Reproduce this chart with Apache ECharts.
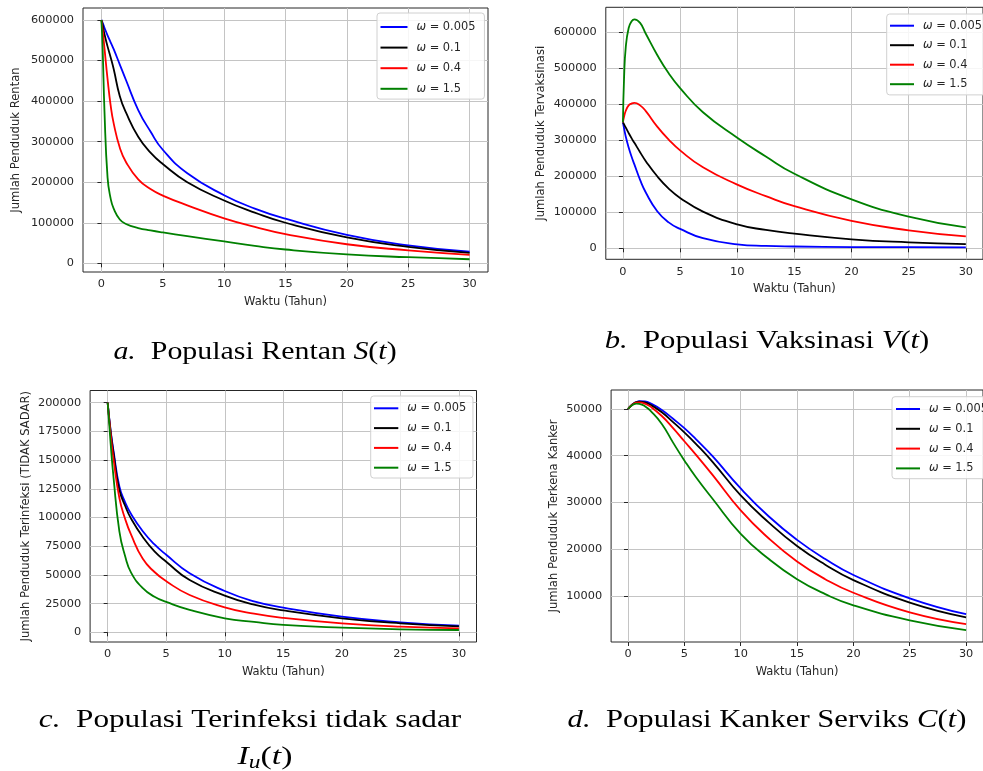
<!DOCTYPE html>
<html>
<head>
<meta charset="utf-8">
<script src="https://cdn.jsdelivr.net/npm/echarts@6/dist/echarts.min.js"></script>
<style>
html,body{margin:0;padding:0;background:#fff;}
#main{width:983px;height:771px;}
</style>
</head>
<body>
<div id="main"></div>
<script>
// ---- Data ----
const seriesNames = ['ω = 0.005', 'ω = 0.1', 'ω = 0.4', 'ω = 1.5'];
const xTicks = [0, 5, 10, 15, 20, 25, 30];

// a. Populasi Rentan S(t)
const tS = [0, 0.1, 0.25, 0.5, 0.75, 1, 1.5, 2, 3, 4, 5, 7, 10, 12.5, 15, 20, 25, 30];
const S_w0005 = [600000, 593000, 581000, 562000, 545000, 528000, 490000, 452000, 378000, 325000, 280000, 222000, 168000, 135000, 110000, 70000, 44000, 28500];
const S_w01   = [600000, 588000, 565000, 535000, 508000, 479000, 412000, 372000, 312000, 273000, 245000, 200000, 155000, 125000, 100000, 64000, 40500, 25500];
const S_w04   = [600000, 575000, 530000, 455000, 390000, 345000, 285000, 250000, 207000, 183000, 167000, 143000, 111000, 90000, 72000, 47000, 32000, 21000];
const S_w15   = [600000, 530000, 375000, 212000, 160000, 135000, 108000, 97000, 87000, 81000, 76000, 67000, 54000, 43000, 34000, 22000, 15000, 10000];
const yTicksS = [0, 100000, 200000, 300000, 400000, 500000, 600000];

// b. Populasi Vaksinasi V(t)
const tV = [0, 0.1, 0.25, 0.5, 0.75, 1, 1.5, 2, 3, 4, 5, 7, 10, 12.5, 15, 20, 25, 30];
const V_w0005 = [350000, 333000, 310000, 280000, 255000, 233000, 190000, 155000, 103000, 72000, 54000, 28000, 11000, 6500, 5000, 3500, 3000, 2500];
const V_w01   = [350000, 344000, 335000, 320000, 306000, 293000, 267000, 242000, 200000, 166000, 140000, 102000, 66500, 51000, 40500, 25000, 16500, 11500];
const V_w04   = [350000, 366000, 382000, 397000, 402000, 404000, 397000, 381000, 338000, 302000, 272000, 225000, 177000, 145000, 117000, 76000, 50000, 33000];
const V_w15   = [350000, 475000, 560000, 612000, 630000, 636000, 626000, 596000, 537000, 486000, 445000, 378000, 307000, 255000, 207000, 136000, 88000, 58000];
const yTicksV = [0, 100000, 200000, 300000, 400000, 500000, 600000];

// c. Populasi Terinfeksi tidak sadar I_u(t)
const tI = [0, 0.25, 0.5, 1, 1.5, 2, 3, 4, 5, 7, 10, 12.5, 15, 20, 25, 30];
const I_w0005 = [200000, 176000, 158000, 127000, 113000, 103000, 88000, 76500, 67500, 51500, 36000, 27000, 21500, 13600, 8700, 5800];
const I_w01   = [200000, 175000, 156000, 124000, 110000, 99000, 83000, 70500, 61500, 45500, 32000, 24000, 19000, 12200, 7800, 5200];
const I_w04   = [200000, 173000, 151000, 117000, 98500, 85000, 64000, 52500, 44500, 32500, 21800, 16200, 12500, 7800, 4900, 3500];
const I_w15   = [200000, 165000, 135000, 88000, 66000, 52000, 38500, 31000, 26500, 19500, 12200, 9000, 6400, 4000, 2600, 2000];
const yTicksI = [0, 25000, 50000, 75000, 100000, 125000, 150000, 175000, 200000];

// d. Populasi Kanker Serviks C(t)
const tC = [0, 0.25, 0.5, 0.75, 1, 1.5, 2, 3, 4, 5, 6, 7.5, 10, 12.5, 15, 17.5, 20, 25, 30];
const C_w0005 = [50000, 50650, 51150, 51500, 51650, 51600, 51200, 49800, 47900, 45900, 43600, 39900, 33000, 27000, 22000, 17900, 14500, 9500, 6100];
const C_w01   = [50000, 50650, 51150, 51450, 51550, 51400, 50900, 49300, 47200, 45000, 42600, 38700, 31500, 25700, 20700, 16700, 13400, 8600, 5450];
const C_w04   = [50000, 50650, 51100, 51350, 51400, 51150, 50500, 48500, 45900, 43100, 40300, 35900, 28300, 22300, 17400, 13600, 10700, 6500, 4000];
const C_w15   = [50000, 50600, 51000, 51150, 51100, 50600, 49600, 46800, 42800, 39000, 35500, 30800, 23300, 17900, 13600, 10400, 8000, 4800, 2700];
const yTicksC = [10000, 20000, 30000, 40000, 50000];

const yNames = ['Jumlah Penduduk Rentan', 'Jumlah Penduduk Tervaksinasi', 'Jumlah Penduduk Terinfeksi (TIDAK SADAR)', 'Jumlah Penduduk Terkena Kanker'];
const xName = 'Waktu (Tahun)';

// ---- Styling / layout ----
const colors = ['#0000ff', '#000000', '#ff0000', '#008000'];
const FONT = 'DejaVu Sans';
const panels = [
  {t: tS, ys: [S_w0005, S_w01, S_w04, S_w15], yTicks: yTicksS, grid: {left: 83, top: 8, width: 405, height: 264}, yMin: -21450, yMax: 629600, nameGap: 61,
   legend: {left: 377, top: 13, itemWidth: 27, itemGap: 6.6, padding: [7, 9, 3.3, 3.5]}},
  {t: tV, ys: [V_w0005, V_w01, V_w04, V_w15], yTicks: yTicksV, grid: {left: 605.8, top: 7.3, width: 385.8, height: 252}, yMin: -30550, yMax: 669400, nameGap: 59,
   legend: {left: 886.7, top: 14, itemWidth: 24, itemGap: 5.5, padding: [4.7, 9, 3.7, 3.3]}},
  {t: tI, ys: [I_w0005, I_w01, I_w04, I_w15], yTicks: yTicksI, grid: {left: 90.1, top: 390.5, width: 386.4, height: 251.5}, yMin: -8450, yMax: 210600, nameGap: 58,
   legend: {left: 370.7, top: 396, itemWidth: 24.3, itemGap: 5.8, padding: [5.3, 6.7, 3.3, 3.3]}},
  {t: tC, ys: [C_w0005, C_w01, C_w04, C_w15], yTicks: yTicksC, grid: {left: 611.1, top: 390, width: 386.4, height: 252}, yMin: 160, yMax: 54060, nameGap: 51,
   legend: {left: 892, top: 396.7, itemWidth: 24, itemGap: 5.8, padding: [5.3, 6.7, 3.3, 4]}}
];

const labelStyle = {fontFamily: FONT, fontSize: 11.3, color: '#262626'};
const grids = [], xAxes = [], yAxes = [], series = [], legends = [];
panels.forEach((p, i) => {
  grids.push(Object.assign({show: true, borderColor: '#262626', borderWidth: 1, backgroundColor: '#fff'}, p.grid));
  xAxes.push({
    type: 'value', gridIndex: i, min: -1.5, max: 31.5,
    name: xName, nameLocation: 'middle', nameGap: 24,
    nameTextStyle: {fontFamily: FONT, fontSize: 11.5, color: '#262626'},
    axisLine: {show: false},
    axisTick: {show: true, length: 4, lineStyle: {color: '#262626'}, customValues: xTicks},
    axisLabel: Object.assign({margin: 7, customValues: xTicks, formatter: v => String(v)}, labelStyle),
    splitLine: {show: true, lineStyle: {color: '#c4c4c4', width: 1}}
  });
  yAxes.push({
    type: 'value', gridIndex: i, min: p.yMin, max: p.yMax,
    name: yNames[i], nameLocation: 'middle', nameGap: p.nameGap,
    nameTextStyle: {fontFamily: FONT, fontSize: 11.6, color: '#262626'},
    axisLine: {show: false},
    axisTick: {show: true, length: 4, lineStyle: {color: '#262626'}, customValues: p.yTicks},
    axisLabel: Object.assign({margin: 9, customValues: p.yTicks, formatter: v => String(v)}, labelStyle),
    splitLine: {show: true, lineStyle: {color: '#c4c4c4', width: 1}}
  });
  p.ys.forEach((vals, j) => {
    series.push({
      type: 'line', name: seriesNames[j], xAxisIndex: i, yAxisIndex: i,
      data: p.t.map((x, k) => [x, vals[k]]),
      showSymbol: false, symbol: 'none', smooth: 0.5,
      lineStyle: {color: colors[j], width: 1.8}, itemStyle: {color: colors[j]},
      emphasis: {disabled: true}, silent: true, animation: false, z: 2 + j
    });
  });
  legends.push(Object.assign({
    orient: 'vertical', data: seriesNames, icon: 'rect', itemHeight: 2,
    selectedMode: false, backgroundColor: 'rgba(255,255,255,0.85)',
    borderColor: '#d0d0d0', borderWidth: 1, borderRadius: 3, z: 10,
    formatter: n => '{w|ω}' + n.slice(1),
    textStyle: {fontFamily: FONT, fontSize: 11.4, color: '#262626', lineHeight: 14,
      rich: {w: {fontFamily: FONT, fontStyle: 'italic', fontSize: 11.4, color: '#262626', lineHeight: 14, padding: [0, 0, 0, 4]}}}
  }, p.legend));
});

const capFont = 'Liberation Serif';
const CAP = 26;
const capRich = {
  i: {fontFamily: capFont, fontStyle: 'italic', fontSize: CAP, fill: '#000', lineHeight: 32},
  n: {fontFamily: capFont, fontSize: CAP, fill: '#000', lineHeight: 32},
  sub: {fontFamily: capFont, fontStyle: 'italic', fontSize: 18, fill: '#000', lineHeight: 32, padding: [13, 0, 0, 0]}
};
function caption(x, y, text, sx) {
  return {type: 'text', x: x, y: y, scaleX: sx || 1.18, silent: true,
    style: {text: text, fontFamily: capFont, fontSize: CAP, fill: '#000', align: 'center', verticalAlign: 'middle', rich: capRich}};
}

const chart = echarts.init(document.getElementById('main'), null, {renderer: 'canvas'});
chart.setOption({
  animation: false,
  backgroundColor: '#fff',
  grid: grids, xAxis: xAxes, yAxis: yAxes, series: series, legend: legends,
  graphic: [
    caption(255, 352, '{i|a.}{n|  Populasi Rentan }{i|S}{n|(}{i|t}{n|)}', 1.15),
    caption(767, 341, '{i|b.}{n|  Populasi Vaksinasi }{i|V}{n|(}{i|t}{n|)}'),
    caption(250, 720, '{i|c.}{n|  Populasi Terinfeksi tidak sadar}', 1.2),
    caption(265, 757, '{i|I}{sub|u}{n|(}{i|t}{n|)}', 1.3),
    caption(767, 720, '{i|d.}{n|  Populasi Kanker Serviks }{i|C}{n|(}{i|t}{n|)}')
  ]
});
</script>
</body>
</html>
